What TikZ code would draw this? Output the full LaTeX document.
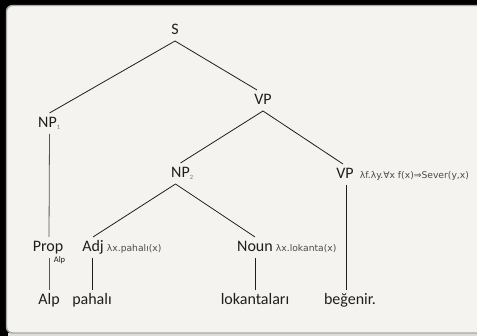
\documentclass[tikz,border=0pt]{standalone}
\usepackage{fontspec}
\setmainfont{Carlito}
\newfontfamily\semfont{DejaVu Sans}
\definecolor{panel}{HTML}{F4F3F0}
\definecolor{rim}{HTML}{A8A8A8}
\definecolor{ink}{HTML}{1E1E1E}
\definecolor{subink}{HTML}{777777}
\newcommand{\idx}[1]{\rlap{\raisebox{-2pt}{\fontsize{6.5}{7}\selectfont\color{subink}#1}}}
\tikzset{
  tn/.style={anchor=base, font=\fontsize{16}{18}\selectfont, text=ink,
    text height=11pt, text depth=2pt, inner ysep=4pt, inner xsep=1pt, outer sep=0pt},
  sem/.style={anchor=base west, font=\semfont\fontsize{9.2}{10}\selectfont, text=ink!80,
    inner sep=0pt},
  br/.style={draw=ink, line width=0.8pt},
}
\begin{document}
\begin{tikzpicture}[x=1pt,y=-1pt]
\useasboundingbox (0,0) rectangle (477,336);
% backdrop and panel
\fill[black] (0,0) rectangle (477,336);
\fill[panel!70!rim] (8,333) rectangle (477,336);
\draw[fill=panel, draw=rim, line width=1.4pt, rounded corners=6pt] (6.5,5.5) rectangle (495,333);

% tree nodes
\node[tn] (S)    at (175,35)  {S};
\node[tn] (VP)   at (263,105) {VP};
\node[tn] (NP1)  at (47.5,128) {NP\idx{1}};
\node[tn] (NP2)  at (180.5,178) {NP\idx{2}};
\node[tn] (VP2)  at (345,179) {VP};
\node[tn] (Prop) at (48,252)  {Prop};
\node[tn] (Adj)  at (93,252)  {Adj};
\node[tn] (Noun) at (255,252) {Noun};
\node[tn] (alp)    at (49,305)  {Alp};
\node[tn] (pahali) at (92,305)  {pahalı};
\node[tn] (lok)    at (255,305) {lokantaları};
\node[tn] (beg)    at (350,305) {beğenir.};

% semantic annotations
\node[sem] (vpsem)  at ([xshift=5pt]VP2.base east)  {λf.λy.∀x f(x)⇒Sever(y,x)};
\node[sem] (adjsem) at ([xshift=2pt]Adj.base east)  {λx.pahalı(x)};
\node[sem] (nsem)   at ([xshift=2pt]Noun.base east) {λx.lokanta(x)};
\node[anchor=base, inner sep=0pt, font=\fontsize{8.5}{9}\selectfont, text=ink] (propsem) at (59.5,262.5) {Alp};

% branches
\draw[br] (S.south) -- ([xshift=2pt]NP1.north);
\draw[br] (S.south) -- ([xshift=-6pt]VP.north);
\draw[br] (VP.south) -- (NP2.north);
\draw[br] (VP.south) -- ([xshift=-2pt]VP2.north);
\draw[br] ([xshift=-5pt]NP2.south) -- (Adj.north);
\draw[br] ([xshift=-5pt]NP2.south) -- (Noun.north);
\draw[br, draw=ink!75] ([xshift=2pt]NP1.south) -- ([xshift=1pt]Prop.north);
\draw[br] ([xshift=1pt]VP2.south) -- ([xshift=1pt]VP2.south |- beg.north);
\draw[br, draw=ink!75] ([xshift=1pt]Prop.south) -- (alp.north);
\draw[br] (pahali.north |- Adj.south) -- (pahali.north);
\draw[br] (Noun.south) -- (lok.north);
\end{tikzpicture}
\end{document}
